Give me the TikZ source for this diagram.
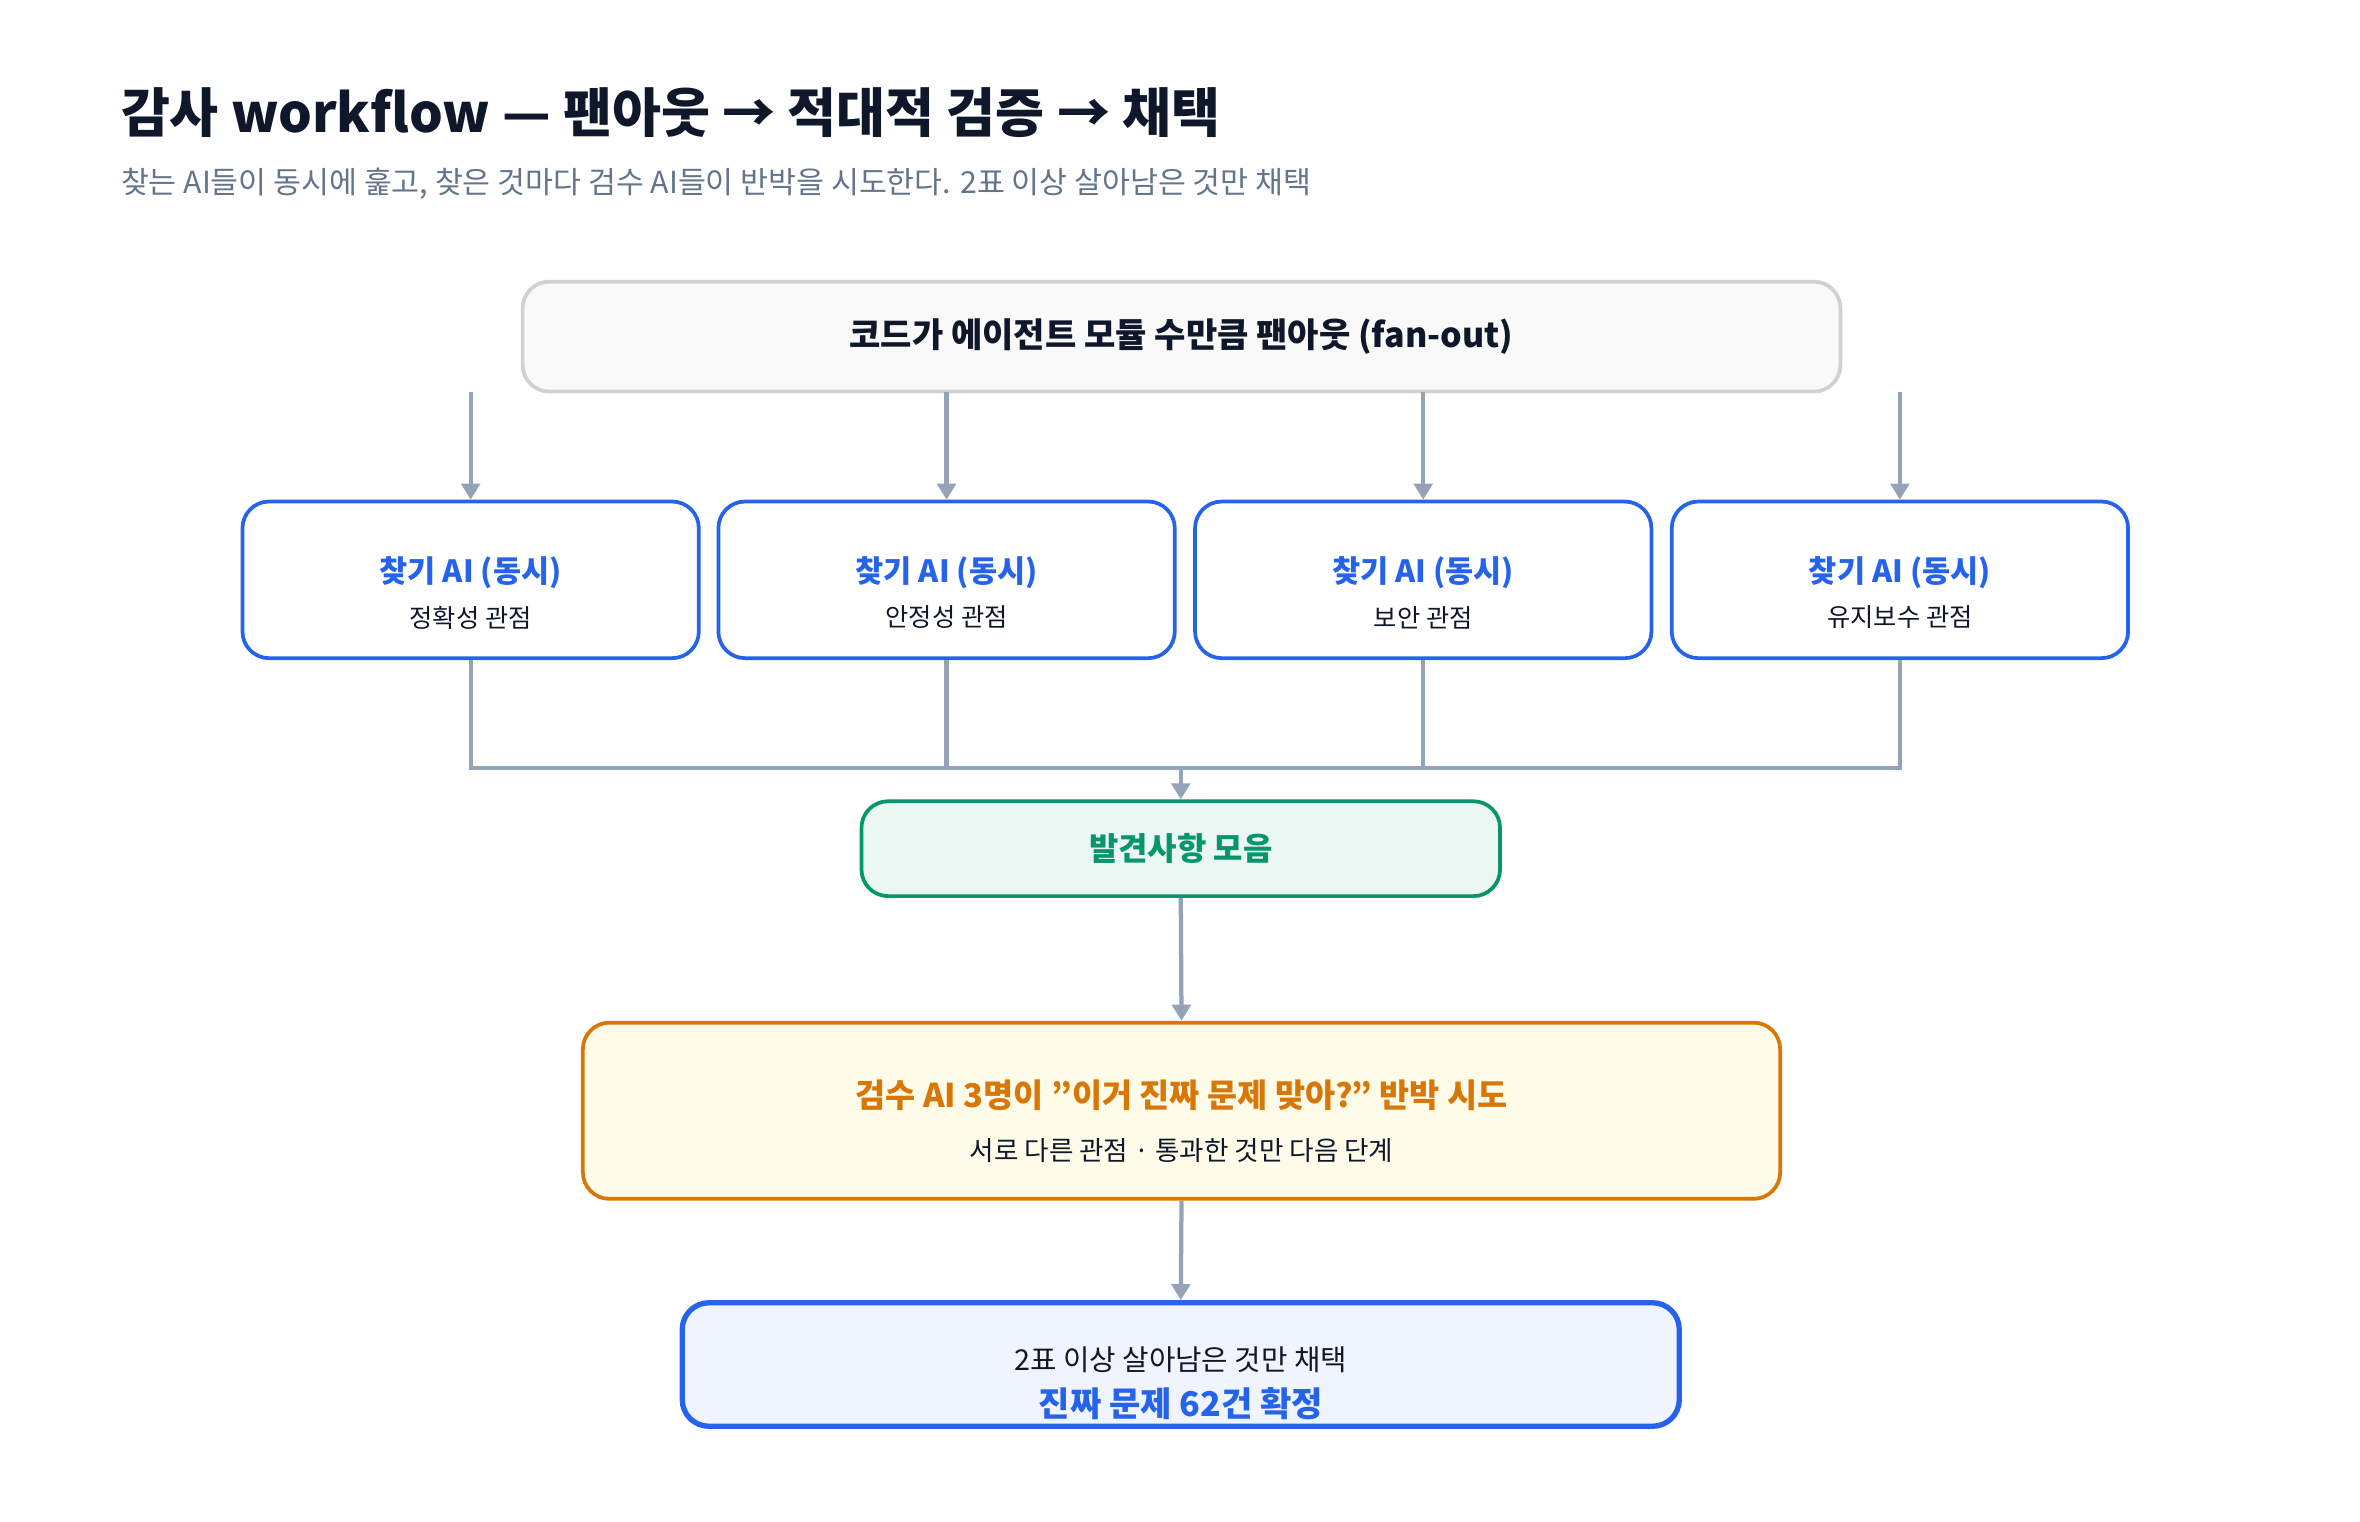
\documentclass[tikz,border=0pt]{standalone}
\usepackage{fontspec}
\setmainfont{Noto Sans CJK KR}
\usetikzlibrary{positioning}
\usetikzlibrary{arrows.meta}

\definecolor{ink}{HTML}{0F172A}
\definecolor{mute}{HTML}{64748B}
\definecolor{line}{HTML}{94A3B8}
\definecolor{bluec}{HTML}{2563EB}
\definecolor{greenc}{HTML}{059669}
\definecolor{orangec}{HTML}{D97706}
\definecolor{creamc}{HTML}{FEFBE8}

\tikzset{
  box/.style = {draw, rounded corners=10pt, line width=1.4pt, inner sep=0pt},
  finder/.style = {box, draw=bluec, fill=white, minimum width=303*0.0199cm, minimum height=104*0.0199cm},
  flow/.style = {draw=line, line width=1.6pt},
  arr/.style = {flow, -{Triangle[angle=60:7pt]}},
}

\begin{document}
\begin{tikzpicture}[x=0.0199cm,y=-0.0199cm]

            %\draw [help lines] (0,0) grid (1560,1005);
            \useasboundingbox (0,0) rectangle (1567,1010);

            \node (title) [anchor=west,inner sep=0pt,text=ink,font=\fontsize{20}{24}\selectfont\bfseries] at (80,75) {감사 workflow — 팬아웃 → 적대적 검증 → 채택};
            \node (sub) [anchor=west,inner sep=0pt,text=mute,font=\fontsize{11.4}{13}\selectfont] at (80,122) {찾는 AI들이 동시에 훑고, 찾은 것마다 검수 AI들이 반박을 시도한다. 2표 이상 살아남은 것만 채택};

            \node (top) [box,draw=black!18,fill=black!2.5!white,minimum width=875*0.0199cm,minimum height=73*0.0199cm,font=\fontsize{12.8}{14}\selectfont\bfseries,text=ink] at (784.5,223.5) {코드가 에이전트 모듈 수만큼 팬아웃 (fan-out)};

            \node (f1) [finder] at (312.5,385) {};
            \node (f2) [finder] at (628.5,385) {};
            \node (f3) [finder] at (945,385) {};
            \node (f4) [finder] at (1261.5,385) {};

            \node [text=bluec,font=\fontsize{11.5}{13}\selectfont\bfseries] at (312.5,380) {찾기 AI (동시)};
            \node [text=ink,font=\fontsize{9.5}{11}\selectfont] at (312.5,410) {정확성 관점};
            \node [text=bluec,font=\fontsize{11.5}{13}\selectfont\bfseries] at (628.5,380) {찾기 AI (동시)};
            \node [text=ink,font=\fontsize{9.5}{11}\selectfont] at (628.5,410) {안정성 관점};
            \node [text=bluec,font=\fontsize{11.5}{13}\selectfont\bfseries] at (945,380) {찾기 AI (동시)};
            \node [text=ink,font=\fontsize{9.5}{11}\selectfont] at (945,410) {보안 관점};
            \node [text=bluec,font=\fontsize{11.5}{13}\selectfont\bfseries] at (1261.5,380) {찾기 AI (동시)};
            \node [text=ink,font=\fontsize{9.5}{11}\selectfont] at (1261.5,410) {유지보수 관점};

            \coordinate (s1) at (312.5,260);
            \coordinate (s2) at (628.5,260);
            \coordinate (s3) at (945,260);
            \coordinate (s4) at (1261.5,260);

            \node (col) [box,draw=greenc,fill=greenc!8!white,minimum width=424*0.0199cm,minimum height=63*0.0199cm,text=greenc,font=\fontsize{12}{14}\selectfont\bfseries] at (784,563.5) {발견사항 모음};

            \node (rev) [box,draw=orangec,fill=creamc,minimum width=795*0.0199cm,minimum height=117*0.0199cm] at (784.5,737.5) {};
            \node [text=orangec,font=\fontsize{12.3}{14}\selectfont\bfseries] at (784.5,727) {검수 AI 3명이 \symbol{34}이거 진짜 문제 맞아?\symbol{34} 반박 시도};
            \node [text=ink,font=\fontsize{10}{12}\selectfont] at (784.5,764) {서로 다른 관점 · 통과한 것만 다음 단계};

            \node (res) [box,draw=bluec,line width=2pt,fill=bluec!7!white,minimum width=662*0.0199cm,minimum height=82*0.0199cm] at (784,906) {};
            \node [text=ink,font=\fontsize{10.8}{12}\selectfont] at (784,903) {2표 이상 살아남은 것만 채택};
            \node [text=bluec,font=\fontsize{12.8}{14}\selectfont\bfseries] at (784,932) {진짜 문제 62건 확정};

            \coordinate (j) at (784,510);

            \draw[arr] (s1) -- (f1.north);
            \draw[arr] (s2) -- (f2.north);
            \draw[arr] (s3) -- (f3.north);
            \draw[arr] (s4) -- (f4.north);

            \draw[flow] (f1.south) |- (j);
            \draw[flow] (f4.south) |- (j);
            \draw[flow] (f2.south) -- (f2.south |- j);
            \draw[flow] (f3.south) -- (f3.south |- j);
            \draw[arr] (j) -- (col.north);
            \draw[arr] (col.south) -- (rev.north);
            \draw[arr] (rev.south) -- (res.north);

\end{tikzpicture}
\end{document}
